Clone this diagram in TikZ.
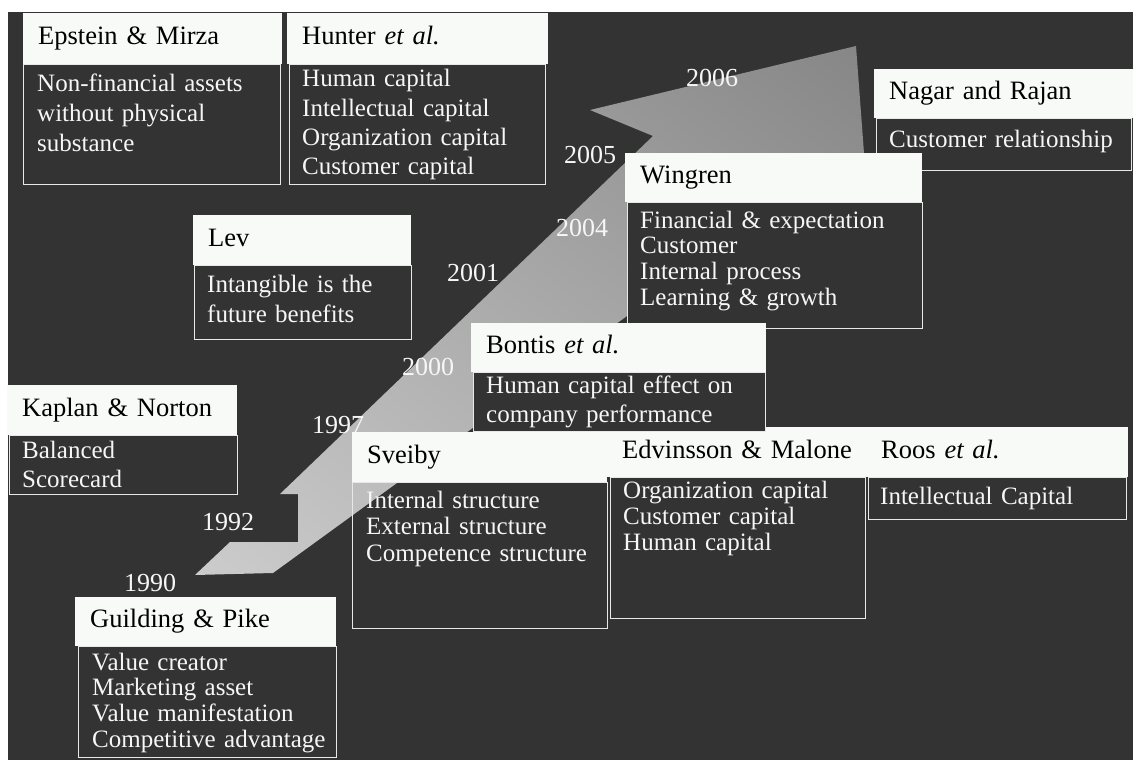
\documentclass[tikz,border=0pt]{standalone}
\usepackage{fontspec}
\setmainfont{Liberation Serif}
\usetikzlibrary{shadings}
\definecolor{kbg}{RGB}{51,51,51}
\definecolor{ktitlefill}{RGB}{248,250,248}
\definecolor{kline}{RGB}{232,232,232}
\definecolor{ktext}{RGB}{246,246,246}
\definecolor{karrowA}{RGB}{204,204,204}
\definecolor{karrowM}{RGB}{170,170,170}
\definecolor{karrowB}{RGB}{134,134,134}
\tikzset{
  ktitle/.style={fill=ktitlefill, anchor=north west, align=left, inner xsep=15pt, inner ysep=0pt, text height=18pt, text depth=6pt, font=\fontsize{26.5}{30}\selectfont},
  kframe/.style={draw=kline, line width=1.4pt, fill=kbg, anchor=north west, inner sep=0pt},
  kframeopen/.style={kframe, fill=none},
  kbody/.style={text=ktext, anchor=base west, align=left, text width=250pt, inner sep=0pt, font=\fontsize{25}{#1}\selectfont},
  kbody/.default=29,
  kyear/.style={text=ktext, inner sep=0pt, font=\fontsize{26}{28}\selectfont},
}

\begin{document}
\begin{tikzpicture}[x=1pt,y=-1pt]
  \useasboundingbox (0,0) rectangle (1133,760);
  \fill[white] (0,0) rectangle (1133,760);
  \fill[kbg] (8,12) rectangle (1133,760);
  \shade[lower left=karrowA, upper right=karrowB, upper left=karrowM, lower right=karrowM]
    (195,575) -- (230,542) -- (298,542) -- (298,494) -- (280,494) -- (653,136) -- (590,110)
    -- (856,46) -- (864,153) -- (868,235) -- (700,263) -- (273,573) -- cycle;
  \node[kyear] (y1990) at (150,583) {1990};
  \node[kyear] (y1992) at (228,522) {1992};
  \node[kyear] (y1997) at (338,425) {1997};
  \node[kyear] (y2000) at (428,367) {2000};
  \node[kyear] (y2001) at (473,273) {2001};
  \node[kyear] (y2004) at (582,228) {2004};
  \node[kyear] (y2005) at (590,155) {2005};
  \node[kyear] (y2006) at (712,78) {2006};

  \node[kframe, minimum width=257pt, minimum height=120pt] (epsteinbox) at (23,64) {};
  \node[ktitle, text width=229pt, minimum height=51pt] (epstein) at (23,13) {Epstein \& Mirza};
  \node[kbody=30] (epsteintxt) at (37,92) {Non-financial assets\\without physical\\substance};

  \node[kframe, minimum width=256pt, minimum height=120pt] (hunterbox) at (289,64) {};
  \node[ktitle, text width=231pt, minimum height=51pt] (hunter) at (287,13) {Hunter \textit{et al.}};
  \node[kbody=29.3] (huntertxt) at (302,87) {Human capital\\Intellectual capital\\Organization capital\\Customer capital};

  \node[kframe, minimum width=217pt, minimum height=74pt] (levbox) at (194,265) {};
  \node[ktitle, text width=188pt, minimum height=50pt] (lev) at (193,215) {Lev};
  \node[kbody=30] (levtxt) at (207,292) {Intangible is the\\future benefits};

  \node[kframe, minimum width=228pt, minimum height=59pt] (kaplanbox) at (9,435) {};
  \node[ktitle, text width=200pt, minimum height=50pt] (kaplan) at (7,385) {Kaplan \& Norton};
  \node[kbody=29] (kaplantxt) at (22,458) {Balanced\\Scorecard};

  \node[kframe, minimum width=258pt, minimum height=111pt] (guildingbox) at (78,646) {};
  \node[ktitle, text width=231pt, minimum height=49pt] (guilding) at (75,597) {Guilding \& Pike};
  \node[kbody=25.7] (guildingtxt) at (92,670) {Value creator\\Marketing asset\\Value manifestation\\Competitive advantage};

  \node[kframe, minimum width=255pt, minimum height=52pt] (nagarbox) at (876,118) {};
  \node[ktitle, text width=229pt, minimum height=49pt] (nagar) at (874,69) {Nagar and Rajan};
  \node[kbody] (nagartxt) at (889,147) {Customer relationship};

  \node[kframe, minimum width=295pt, minimum height=126pt] (wingrenbox) at (627,202) {};
  \node[ktitle, text width=267pt, minimum height=49pt] (wingren) at (625,153) {Wingren};
  \node[kbody=25.7] (wingrentxt) at (640,228) {Financial \& expectation\\Customer\\Internal process\\Learning \& growth};

  \node[ktitle, text width=240pt, minimum height=50pt] (edvinsson) at (607,427) {Edvinsson \& Malone};
  \node[kframe, minimum width=255pt, minimum height=141pt] (edvinssonbox) at (610,477) {};
  \node[kbody=26] (edvinssontxt) at (623,498) {Organization capital\\Customer capital\\Human capital};

  \node[kframe, minimum width=258pt, minimum height=42pt] (roosbox) at (868,477) {};
  \node[ktitle, text width=232pt, minimum height=50pt] (roos) at (866,427) {Roos \textit{et al.}};
  \node[kbody] (roostxt) at (880,504) {Intellectual Capital};

  \node[kframeopen, minimum width=255pt, minimum height=146pt] (sveibybox) at (352,482) {};
  \node[ktitle, text width=225pt, minimum height=50pt] (sveiby) at (352,432) {Sveiby};
  \node[kbody=26.7] (sveibytxt) at (366,508) {Internal structure\\External structure\\Competence structure};

  \node[kframe, minimum width=292pt, minimum height=59pt] (bontisbox) at (473,372) {};
  \node[ktitle, text width=265pt, minimum height=49pt] (bontis) at (471,323) {Bontis \textit{et al.}};
  \node[kbody=29] (bontistxt) at (486,393) {Human capital effect on\\company performance};
\end{tikzpicture}
\end{document}
